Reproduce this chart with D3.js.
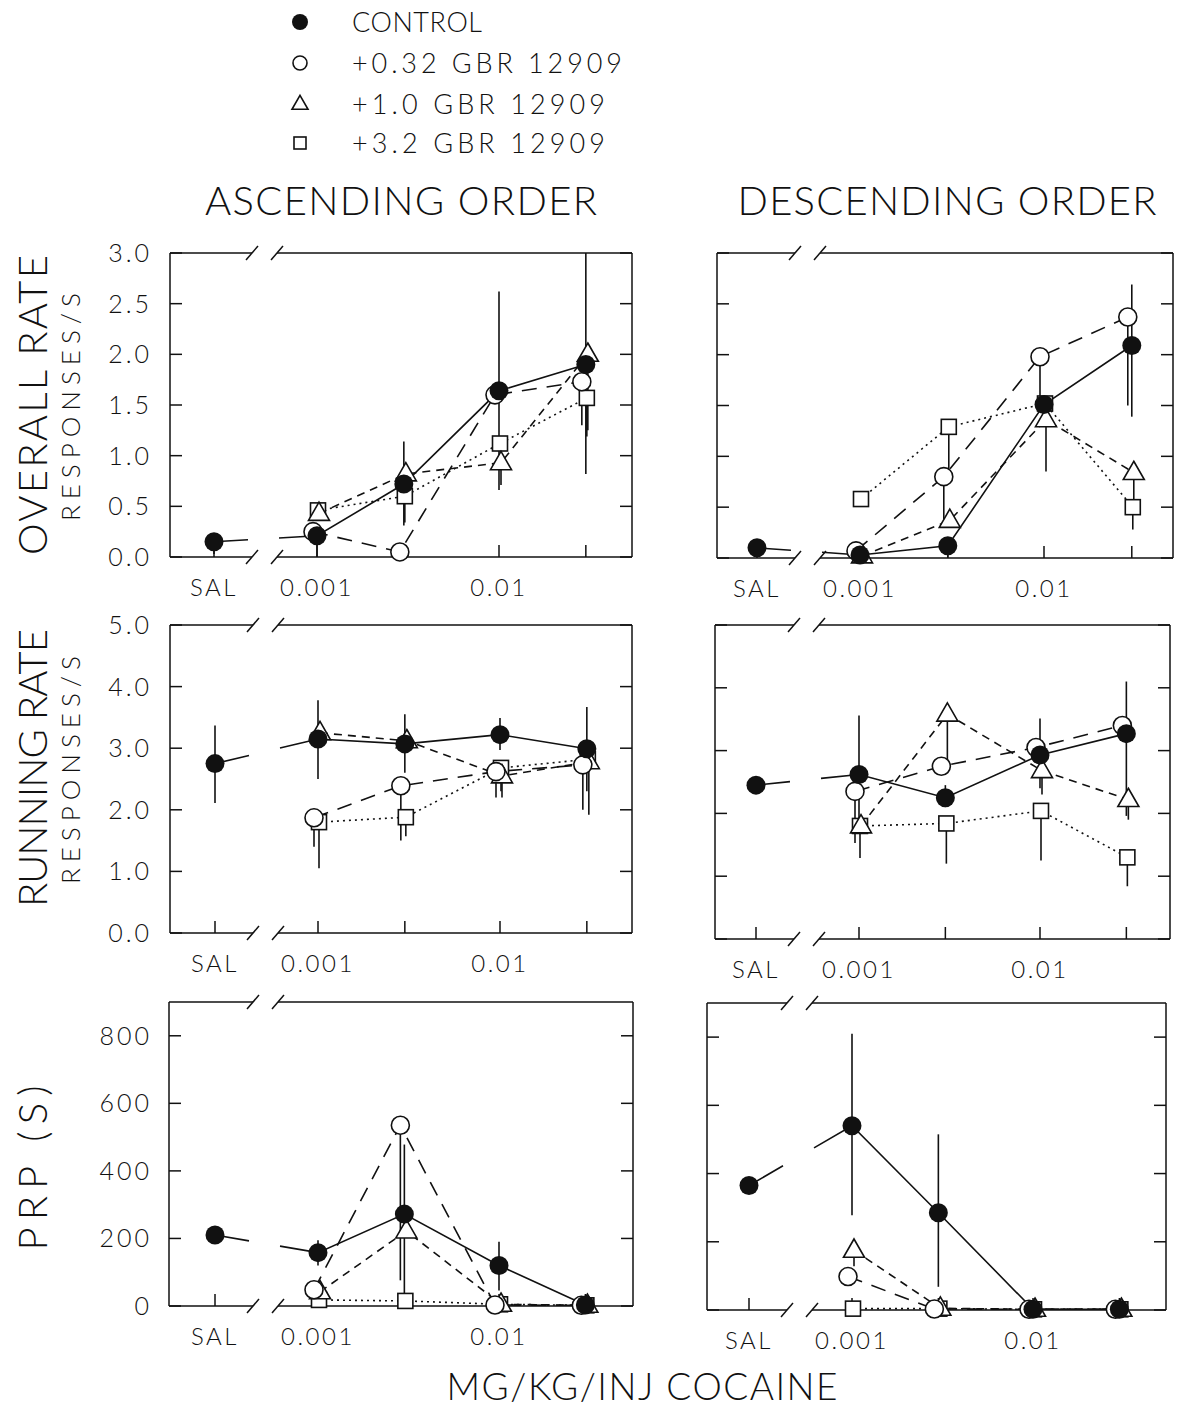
<!DOCTYPE html>
<html>
<head>
<meta charset="utf-8">
<script src="https://cdn.jsdelivr.net/npm/d3@7"></script>
<style>
  body { margin: 0; background: #fff; }
  text { font-family: Lato, "Liberation Sans", Arial, sans-serif; font-weight: 300; fill: #111; }
</style>
</head>
<body>
<svg id="chart" width="1179" height="1410"></svg>
<script>
// ---- data ----
const seriesNames = ["CONTROL", "+0.32 GBR 12909", "+1.0 GBR 12909", "+3.2 GBR 12909"];
// first slot is saline, then cocaine doses mg/kg/inj
const doses = ["SAL", 0.001, 0.003, 0.01, 0.03];
const xTickLabels = [["SAL", "SAL"], [0.001, "0.001"], [0.01, "0.01"]];

const overallTicks = [0, 0.5, 1, 1.5, 2, 2.5, 3];
const runningTicks = [0, 1, 2, 3, 4, 5];
const prpTicks = [0, 200, 400, 600, 800];

// overall rate, ascending order (rows: control, +0.32, +1.0, +3.2)
const overallAsc = [
  [0.15, 0.21, 0.72, 1.64, 1.90],
  [null, 0.25, 0.05, 1.60, 1.73],
  [null, 0.43, 0.82, 0.93, 2.00],
  [null, 0.46, 0.60, 1.12, 1.57]
];
const overallAscErr = [
  [[0.03, 0.15], [0.0, 0.21], [0.31, 1.14], [0.66, 2.62], [0.82, 3.0]],
  [null, null, null, null, [1.30, 1.73]],
  [null, null, null, [0.71, 1.12], [1.25, 2.0]],
  [null, null, [0.34, 0.60], null, [1.19, 1.57]]
];

// overall rate, descending order
const overallDesc = [
  [0.10, 0.03, 0.12, 1.51, 2.09],
  [null, 0.07, 0.80, 1.98, 2.37],
  [null, 0.02, 0.37, 1.36, 0.84],
  [null, 0.58, 1.29, 1.52, 0.50]
];
const overallDescErr = [
  [[0.02, 0.10], null, [0.0, 0.12], null, [1.39, 2.69]],
  [null, null, [0.38, 0.80], [1.50, 1.98], [1.50, 2.37]],
  [null, null, null, [0.85, 1.36], [0.57, 0.84]],
  [null, null, [0.87, 1.29], null, [0.28, 0.50]]
];

// running rate, ascending order
const runningAsc = [
  [2.75, 3.15, 3.07, 3.22, 2.99],
  [null, 1.87, 2.39, 2.62, 2.73],
  [null, 3.25, 3.12, 2.55, 2.78],
  [null, 1.80, 1.88, 2.68, 2.82]
];
const runningAscErr = [
  [[2.11, 3.37], [2.50, 3.78], [2.60, 3.55], [2.97, 3.49], [2.30, 3.67]],
  [null, [1.40, 1.87], [1.50, 2.39], [2.20, 2.62], [2.00, 2.73]],
  [null, null, null, [2.20, 2.55], [1.92, 2.78]],
  [null, [1.05, 1.80], [1.57, 1.88], [2.30, 2.68], null]
];

// running rate, descending order
const runningDesc = [
  [2.45, 2.62, 2.25, 2.93, 3.27],
  [null, 2.35, 2.75, 3.05, 3.40],
  [null, 1.80, 3.58, 2.68, 2.22],
  [null, 1.80, 1.84, 2.04, 1.30]
];
const runningDescErr = [
  [null, [1.75, 3.56], [2.10, 2.45], [2.40, 3.51], [1.96, 4.10]],
  [null, [1.53, 2.35], null, null, null],
  [null, null, [2.82, 3.58], [2.30, 2.68], [1.90, 2.22]],
  [null, [1.29, 1.80], [1.20, 1.84], [1.25, 2.04], [0.84, 1.30]]
];

// post-reinforcement pause (s), ascending order
const prpAsc = [
  [210, 158, 272, 120, 3],
  [null, 48, 535, 3, 2],
  [null, 42, 222, 5, 2],
  [null, 18, 15, 5, 2]
];
const prpAscErr = [
  [null, [120, 195], [15, 478], [46, 190], null],
  [null, null, [76, 535], null, null],
  [null, null, null, null, null],
  [null, null, null, null, null]
];

// post-reinforcement pause (s), descending order
const prpDesc = [
  [365, 540, 285, 2, 2],
  [null, 98, 3, 2, 2],
  [null, 175, 5, 2, 2],
  [null, 4, 4, 2, 2]
];
const prpDescErr = [
  [null, [278, 810], [68, 515], null, null],
  [null, null, null, null, null],
  [null, [128, 175], null, null, null],
  [null, null, null, null, null]
];

// ---- layout ----
const svg = d3.select("#chart");
const W = 1179, H = 1410;
svg.append("rect").attr("width", W).attr("height", H).attr("fill", "#fff");

const dashes = [null, "15,10", "8,6", "2,4"];
const seriesDx = [0, -4, 2, 1];

const panels = [
  { data: overallAsc, err: overallAscErr, ticks: overallTicks, yMax: 3, fmt: ".1f", labels: true,
    x0: 170, x1: 632, y0: 253, y1: 557, x001: 317, x01: 499 },
  { data: overallDesc, err: overallDescErr, ticks: overallTicks, yMax: 3, fmt: ".1f", labels: false,
    x0: 717, x1: 1173, y0: 253, y1: 558, x001: 860, x01: 1044 },
  { data: runningAsc, err: runningAscErr, ticks: runningTicks, yMax: 5, fmt: ".1f", labels: true,
    x0: 170, x1: 632, y0: 625, y1: 933, x001: 318, x01: 500 },
  { data: runningDesc, err: runningDescErr, ticks: runningTicks, yMax: 5, fmt: ".1f", labels: false,
    x0: 715, x1: 1170, y0: 625, y1: 939, x001: 859, x01: 1040 },
  { data: prpAsc, err: prpAscErr, ticks: prpTicks, yMax: 900, fmt: "d", labels: true,
    x0: 169, x1: 633, y0: 1002, y1: 1306, x001: 318, x01: 499 },
  { data: prpDesc, err: prpDescErr, ticks: prpTicks, yMax: 900, fmt: "d", labels: false,
    x0: 707, x1: 1166, y0: 1003, y1: 1310, x001: 852, x01: 1033 }
];

function triPath(s) {
  const h = s * 0.87;
  return `M0,${-h * 0.62}L${s / 2},${h * 0.38}L${-s / 2},${h * 0.38}Z`;
}

function drawMarker(g, k, x, y, big) {
  const sw = 1.6;
  if (k === 0) {
    g.append("circle").attr("cx", x).attr("cy", y).attr("r", big ? 9.5 : 8).attr("fill", "#111");
  } else if (k === 1) {
    g.append("circle").attr("cx", x).attr("cy", y).attr("r", big ? 9 : 7)
      .attr("fill", "#fff").attr("stroke", "#111").attr("stroke-width", sw);
  } else if (k === 2) {
    g.append("path").attr("transform", `translate(${x},${y})`).attr("d", triPath(big ? 21 : 16))
      .attr("fill", "#fff").attr("stroke", "#111").attr("stroke-width", sw);
  } else {
    const s = big ? 15 : 12;
    g.append("rect").attr("x", x - s / 2).attr("y", y - s / 2).attr("width", s).attr("height", s)
      .attr("fill", "#fff").attr("stroke", "#111").attr("stroke-width", sw);
  }
}

panels.forEach(p => {
  const g = svg.append("g");
  const x = d3.scaleLog().domain([0.001, 0.01]).range([p.x001, p.x01]);
  const y = d3.scaleLinear().domain([0, p.yMax]).range([p.y1, p.y0]);
  const salX = x(0.001) - 103;
  const xpos = d => d === "SAL" ? salX : x(d);
  const b1 = x(0.001) - 65, b2 = x(0.001) - 40;

  // frame with axis break
  const frame = g.append("g").attr("stroke", "#111").attr("stroke-width", 1.5).attr("fill", "none");
  frame.append("line").attr("x1", p.x0).attr("x2", p.x0).attr("y1", p.y0).attr("y2", p.y1);
  frame.append("line").attr("x1", p.x1).attr("x2", p.x1).attr("y1", p.y0).attr("y2", p.y1);
  [p.y0, p.y1].forEach(yy => {
    frame.append("line").attr("x1", p.x0).attr("x2", b1).attr("y1", yy).attr("y2", yy);
    frame.append("line").attr("x1", b2).attr("x2", p.x1).attr("y1", yy).attr("y2", yy);
    [b1, b2].forEach(bx => {
      frame.append("line").attr("x1", bx - 6).attr("x2", bx + 6).attr("y1", yy + 7).attr("y2", yy - 7);
    });
  });

  // y ticks inside, both sides
  p.ticks.forEach(t => {
    frame.append("line").attr("x1", p.x0).attr("x2", p.x0 + 12).attr("y1", y(t)).attr("y2", y(t));
    frame.append("line").attr("x1", p.x1).attr("x2", p.x1 - 12).attr("y1", y(t)).attr("y2", y(t));
  });
  // x ticks inside at bottom
  doses.forEach(d => {
    frame.append("line").attr("x1", xpos(d)).attr("x2", xpos(d)).attr("y1", p.y1).attr("y2", p.y1 - 12);
  });

  if (p.labels) {
    const f = d3.format(p.fmt);
    p.ticks.forEach(t => {
      g.append("text").attr("x", 152).attr("y", y(t)).attr("dy", "0.36em")
        .attr("text-anchor", "end").attr("font-size", 25).attr("letter-spacing", 3)
        .text(f(t));
    });
  }
  xTickLabels.forEach(([d, lab]) => {
    g.append("text").attr("x", xpos(d)).attr("y", p.y1 + 39)
      .attr("text-anchor", "middle").attr("font-size", 24).attr("letter-spacing", 2.5)
      .text(lab);
  });

  // connecting lines
  p.data.forEach((vals, k) => {
    let pts = [];
    vals.forEach((v, i) => {
      if (v === null) return;
      pts.push([xpos(doses[i]) + seriesDx[k], y(v)]);
    });
    // break the control line across the axis break
    if (vals[0] !== null) {
      const [a, b] = pts;
      const at = bx => [bx, a[1] + (b[1] - a[1]) * (bx - a[0]) / (b[0] - a[0])];
      pts = [a, at(b1 - 4), null, at(b2 + 2)].concat(pts.slice(1));
    }
    const line = d3.line().defined(d => d !== null);
    g.append("path").attr("d", line(pts)).attr("fill", "none")
      .attr("stroke", "#111").attr("stroke-width", 1.6)
      .attr("stroke-dasharray", dashes[k]);
  });

  // error bars
  p.err.forEach((row, k) => {
    row.forEach((e, i) => {
      if (!e) return;
      const xx = xpos(doses[i]) + seriesDx[k];
      g.append("line").attr("x1", xx).attr("x2", xx).attr("y1", y(e[0])).attr("y2", y(e[1]))
        .attr("stroke", "#111").attr("stroke-width", 1.6);
    });
  });

  // markers, control drawn last
  [3, 2, 1, 0].forEach(k => {
    p.data[k].forEach((v, i) => {
      if (v === null) return;
      drawMarker(g, k, xpos(doses[i]) + seriesDx[k], y(v), true);
    });
  });
});

// ---- legend ----
const legendY = [22, 63, 104, 143];
const legendLen = [130, 270, 253, 253];
seriesNames.forEach((name, k) => {
  drawMarker(svg, k, 300, legendY[k], false);
  svg.append("text").attr("x", 352).attr("y", legendY[k] + 10)
    .attr("font-size", 27).attr("textLength", legendLen[k]).attr("lengthAdjust", "spacing")
    .text(name);
});

// ---- titles ----
const colTitles = [["ASCENDING ORDER", 401, 392], ["DESCENDING ORDER", 947, 419]];
colTitles.forEach(([t, cx, len]) => {
  svg.append("text").attr("x", cx).attr("y", 215).attr("text-anchor", "middle")
    .attr("font-size", 40).attr("textLength", len).attr("lengthAdjust", "spacing").text(t);
});

const rowTitles = [
  ["OVERALL RATE", 405, 300, true],
  ["RUNNING RATE", 768, 278, true],
  ["PRP (S)", 1168, 165, false]
];
rowTitles.forEach(([t, cy, len, sub]) => {
  svg.append("text").attr("transform", `translate(47,${cy}) rotate(-90)`)
    .attr("text-anchor", "middle").attr("font-size", 40)
    .attr("textLength", len).attr("lengthAdjust", "spacing").text(t);
  if (sub) {
    svg.append("text").attr("transform", `translate(80,${cy + 2}) rotate(-90)`)
      .attr("text-anchor", "middle").attr("font-size", 26)
      .attr("textLength", 228).attr("lengthAdjust", "spacing").text("RESPONSES/S");
  }
});

svg.append("text").attr("x", 642).attr("y", 1400).attr("text-anchor", "middle")
  .attr("font-size", 37).attr("textLength", 391).attr("lengthAdjust", "spacing")
  .text("MG/KG/INJ COCAINE");
</script>
</body>
</html>
